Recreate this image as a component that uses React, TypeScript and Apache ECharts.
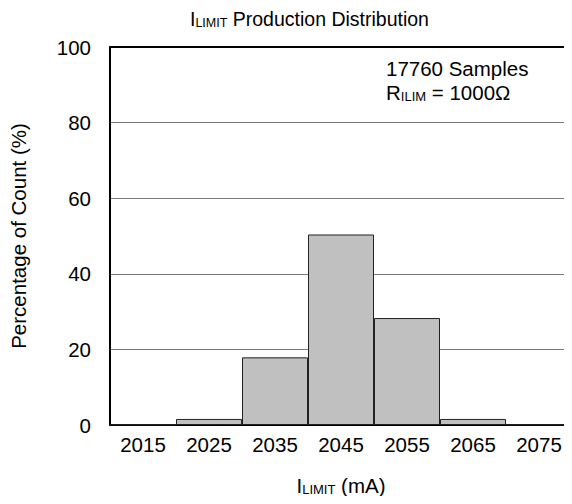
import React, { useEffect, useRef } from "react";
import * as echarts from "echarts";

const categories = ["2015", "2025", "2035", "2045", "2055", "2065", "2075"];
const percentages = [0.1, 1.6, 17.9, 50.4, 28.3, 1.6, 0.1];
const yTicks = [0, 20, 40, 60, 80, 100];

const FONT = "'Liberation Sans', Arial, sans-serif";

export default function App() {
  const ref = useRef<HTMLDivElement>(null);
  useEffect(() => {
    if (!ref.current) return;
    const chart = echarts.init(ref.current, null, { renderer: "svg" });
    chart.setOption({
      animation: false,
      backgroundColor: "#fff",
      textStyle: { fontFamily: FONT },
      title: {
        text: "{m|I}{s|LIMIT}{m| Production Distribution}",
        left: 185,
        top: 2,
        textStyle: {
          fontWeight: "normal",
          rich: {
            m: { fontSize: 19.5, color: "#000", fontFamily: FONT, fontWeight: "normal", verticalAlign: "bottom", lineHeight: 22 },
            s: { fontSize: 12.5, color: "#000", fontFamily: FONT, fontWeight: "normal", verticalAlign: "bottom", lineHeight: 10 },
          },
        },
      },
      grid: { left: 101, right: 0, top: 47, bottom: 79, containLabel: false },
      xAxis: [
        {
          type: "category",
          data: categories,
          boundaryGap: true,
          axisLine: { show: true, lineStyle: { color: "#000", width: 2 } },
          axisTick: { show: false },
          axisLabel: { fontSize: 20.5, color: "#000", fontFamily: FONT, margin: 9 },
          name: "{m|I}{s|LIMIT}{m| (mA)}",
          nameLocation: "middle",
          nameGap: 47,
          nameTextStyle: {
            rich: {
              m: { fontSize: 20.5, color: "#000", fontFamily: FONT, verticalAlign: "bottom", lineHeight: 24 },
              s: { fontSize: 13, color: "#000", fontFamily: FONT, verticalAlign: "bottom", lineHeight: 10 },
            },
          },
          splitLine: { show: false },
        },
        {
          type: "category",
          data: categories,
          position: "top",
          axisLine: { show: true, lineStyle: { color: "#000", width: 2 } },
          axisTick: { show: false },
          axisLabel: { show: false },
        },
      ],
      yAxis: {
        type: "value",
        min: yTicks[0],
        max: yTicks[yTicks.length - 1],
        interval: 20,
        axisLine: { show: true, lineStyle: { color: "#000", width: 2 } },
        axisTick: { show: false },
        axisLabel: { fontSize: 20.5, color: "#000", fontFamily: FONT, margin: 19 },
        splitLine: { show: true, lineStyle: { color: "#7a7a7a", width: 1.2 } },
        name: "Percentage of Count (%)",
        nameLocation: "middle",
        nameGap: 81,
        nameTextStyle: { fontSize: 20.5, color: "#000", fontFamily: FONT },
      },
      series: [
        {
          type: "bar",
          data: percentages,
          barWidth: "100%",
          barCategoryGap: "0%",
          itemStyle: { color: "#c0c0c0", borderColor: "#222", borderWidth: 1 },
        },
      ],
      graphic: [
        {
          type: "text",
          left: 386,
          top: 58,
          style: {
            text: "{m|17760 Samples}\n{m|R}{s|ILIM}{m| = 1000Ω}",
            rich: {
              m: { fontSize: 20.5, fill: "#000", fontFamily: FONT, verticalAlign: "bottom", lineHeight: 24 },
              s: { fontSize: 13, fill: "#000", fontFamily: FONT, verticalAlign: "bottom", lineHeight: 10 },
            },
          },
        },
      ],
    });
    return () => chart.dispose();
  }, []);
  return <div ref={ref} style={{ width: 572, height: 504, margin: -8 }} />;
}
